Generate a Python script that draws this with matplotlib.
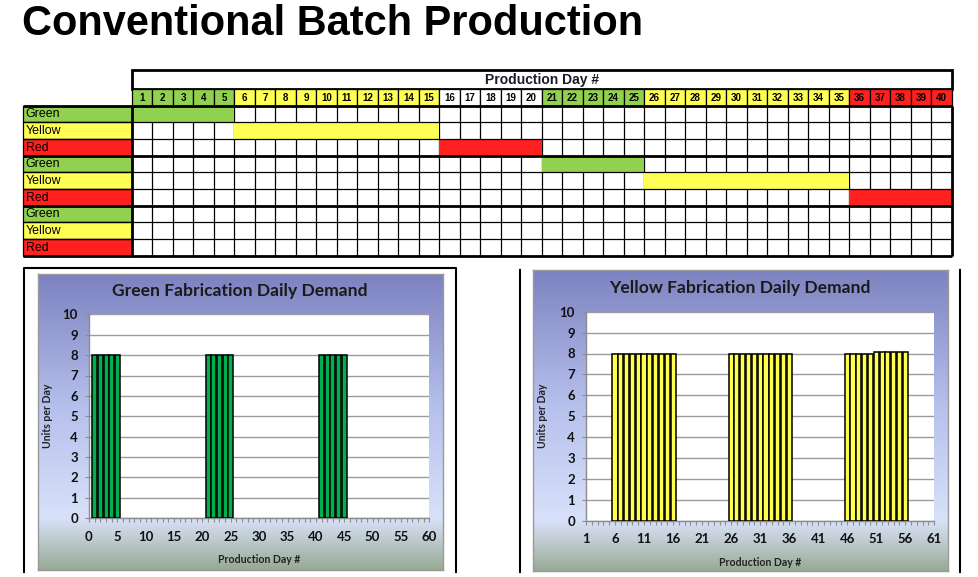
import matplotlib
matplotlib.use('Agg')
import matplotlib.pyplot as plt
import numpy as np
from matplotlib.patches import Rectangle
from matplotlib.lines import Line2D
from matplotlib.ticker import MultipleLocator

# ---------------- data ----------------
page_title = "Conventional Batch Production"
table_header = "Production Day #"
days = [1, 2, 3, 4, 5, 6, 7, 8, 9, 10, 11, 12, 13, 14, 15, 16, 17, 18, 19, 20,
        21, 22, 23, 24, 25, 26, 27, 28, 29, 30, 31, 32, 33, 34, 35, 36, 37, 38, 39, 40]
header_seg_start = [1, 6, 16, 21, 26, 36]
header_seg_end = [5, 15, 20, 25, 35, 40]
header_seg_color = ["green", "yellow", "white", "green", "yellow", "red"]

row_labels = ["Green", "Yellow", "Red", "Green", "Yellow", "Red", "Green", "Yellow", "Red"]
schedule_row = [0, 1, 2, 3, 4, 5]
schedule_start = [1, 6, 16, 21, 26, 36]
schedule_end = [5, 15, 20, 25, 35, 40]

green_title = "Green Fabrication Daily Demand"
green_days = [1, 2, 3, 4, 5, 21, 22, 23, 24, 25, 41, 42, 43, 44, 45]
green_units = [8, 8, 8, 8, 8, 8, 8, 8, 8, 8, 8, 8, 8, 8, 8]
green_xticks = [0, 5, 10, 15, 20, 25, 30, 35, 40, 45, 50, 55, 60]

yellow_title = "Yellow Fabrication Daily Demand"
yellow_days = [6, 7, 8, 9, 10, 11, 12, 13, 14, 15, 16,
               26, 27, 28, 29, 30, 31, 32, 33, 34, 35, 36,
               46, 47, 48, 49, 50, 51, 52, 53, 54, 55, 56]
yellow_units = [8, 8, 8, 8, 8, 8, 8, 8, 8, 8, 8,
                8, 8, 8, 8, 8, 8, 8, 8, 8, 8, 8,
                8, 8, 8, 8, 8, 8.05, 8.05, 8.05, 8.05, 8.05, 8.05]
yellow_xticks = [1, 6, 11, 16, 21, 26, 31, 36, 41, 46, 51, 56, 61]

y_ticks = [0, 1, 2, 3, 4, 5, 6, 7, 8, 9, 10]
y_label = "Units per Day"
x_label = "Production Day #"

# ---------------- styling ----------------
W, H = 979, 577
COL = {"green": "#92D050", "yellow": "#FFFF55", "red": "#FF2020", "white": "#FFFFFF"}
BAR_GREEN = "#00B050"
BAR_YELLOW = "#FFFF4D"
ARIAL = "Liberation Sans"
CAL = "Lato"

fig = plt.figure(figsize=(W / 100, H / 100), dpi=100)
fig.patch.set_facecolor("white")


def px(x0, y0, x1, y1):
    return [x0 / W, 1 - y1 / H, (x1 - x0) / W, (y1 - y0) / H]


def fline(xs, ys, lw=1.5, color="black"):
    fig.add_artist(Line2D([x / W for x in xs], [1 - y / H for y in ys],
                          lw=lw, color=color, transform=fig.transFigure))


# page title
fig.text(22 / W, 1 - 35 / H, page_title, fontsize=29.9, fontweight="bold",
         family=ARIAL, ha="left", va="baseline")

# ---------------- table ----------------
LW = 5.29   # label column width in day-columns
HT = 1.14   # header title row height in rows
ax_t = fig.add_axes(px(23.3, 70, 951.7, 255.7))
ax_t.set_xlim(-LW, 40)
ax_t.set_ylim(9, -1 - HT)
ax_t.axis("off")

ax_t.add_patch(Rectangle((0, -1 - HT), 40, HT, fc="white", ec="black", lw=2, clip_on=False))
ax_t.text(20, -1 - HT / 2, table_header, ha="center", va="center",
          fontsize=10, fontweight="bold", family=ARIAL, color="#1a1a2a")

for s, e, c in zip(header_seg_start, header_seg_end, header_seg_color):
    for d in days:
        if s <= d <= e:
            ax_t.add_patch(Rectangle((d - 1, -1), 1, 1, fc=COL[c], ec="black", lw=0.9, clip_on=False))
            ax_t.text(d - 0.5, -0.47, str(d), ha="center", va="center", fontsize=7.0,
                      fontweight="bold", family=ARIAL, color="black")

for i, lab in enumerate(row_labels):
    ax_t.add_patch(Rectangle((-LW, i), LW, 1, fc=COL[lab.lower()], ec="black", lw=0.9,
                             clip_on=False, zorder=2))
    ax_t.text(-LW + 0.12, i + 0.52, lab, ha="left", va="center", fontsize=8.9,
              family=ARIAL, color="black", zorder=4)

# vertical grid lines
for x in range(0, 41):
    lw = 2 if x in (0, 40) else 0.9
    ax_t.plot([x, x], [0, 9], color="black", lw=lw, zorder=1 if x not in (0, 40) else 3,
              clip_on=False, solid_capstyle="butt")

# scheduled bands
for r, s, e in zip(schedule_row, schedule_start, schedule_end):
    ax_t.add_patch(Rectangle((s - 1, r), e - s + 1, 1, fc=COL[row_labels[r].lower()],
                             ec="none", zorder=2))

# horizontal grid lines
for y in range(0, 10):
    lw = 2 if y % 3 == 0 else 0.9
    ax_t.plot([-LW, 40], [y, y], color="black", lw=lw, zorder=3, clip_on=False,
              solid_capstyle="butt")


# ---------------- charts ----------------
def gradient_panel(rect_px, axis_frac):
    axb = fig.add_axes(px(*rect_px))
    stops = [0.0, 0.45, axis_frac, axis_frac + 0.07, 1.0]
    cols = np.array([[124, 130, 192], [182, 192, 236], [216, 225, 249],
                     [192, 204, 208], [150, 170, 148]]) / 255.0
    t = np.linspace(0, 1, 300)
    img = np.stack([np.interp(t, stops, cols[:, k]) for k in range(3)], axis=1)
    axb.imshow(img[:, None, :], aspect="auto", extent=[0, 1, 1, 0])
    axb.set_xlim(0, 1)
    axb.set_ylim(1, 0)
    axb.set_xticks([])
    axb.set_yticks([])
    for sp in axb.spines.values():
        sp.set_color("#9a9a9a")
        sp.set_linewidth(1)
    return axb


def demand_chart(rect_px, xs, ys, color, xlim, xticks, title, title_xy, xl_y, yl_x):
    ax = fig.add_axes(px(*rect_px))
    ax.set_facecolor("white")
    ax.bar(xs, ys, width=0.88, color=color, edgecolor="black", linewidth=1.1, zorder=3)
    ax.set_xlim(*xlim)
    ax.set_ylim(0, 10)
    ax.set_yticks(y_ticks)
    ax.set_xticks(xticks)
    ax.xaxis.set_minor_locator(MultipleLocator(1))
    ax.grid(axis="y", color="#9c9c9c", lw=1, zorder=0)
    ax.set_axisbelow(True)
    for s in ("top", "right"):
        ax.spines[s].set_visible(False)
    for s in ("left", "bottom"):
        ax.spines[s].set_color("#8c8c8c")
        ax.spines[s].set_linewidth(1)
    ax.tick_params(axis="both", which="both", direction="out", color="#8c8c8c",
                   length=3, width=0.8)
    ax.tick_params(axis="x", which="major", pad=6)
    ax.tick_params(axis="y", which="major", pad=5)
    for lab in ax.get_xticklabels() + ax.get_yticklabels():
        lab.set_fontfamily(CAL)
        lab.set_fontweight("bold")
        lab.set_fontsize(9.5)
        lab.set_color("#111111")
    ax.set_xlabel(x_label, fontsize=7.6, fontweight="bold", family=CAL, color="#222222")
    ax.set_ylabel(y_label, fontsize=7.6, fontweight="bold", family=CAL, color="#222222")
    x0, y0, x1, y1 = rect_px
    ax.xaxis.set_label_coords(0.5, (y1 - xl_y) / (y1 - y0))
    ax.yaxis.set_label_coords((yl_x - x0) / (x1 - x0), 0.5)
    fig.text(title_xy[0] / W, 1 - title_xy[1] / H, title, ha="center", va="center",
             fontsize=12.6, fontweight="bold", family=CAL, color="#1a1a1a")
    return ax


gradient_panel((38, 274, 443, 570), (518.3 - 274) / (570 - 274))
demand_chart((89, 314.3, 429.3, 518.3), green_days, green_units, BAR_GREEN,
             (0, 60), green_xticks, green_title, (240, 291), 554, 53)

gradient_panel((533, 270, 948, 571), (520.7 - 270) / (571 - 270))
demand_chart((586, 311.7, 934.3, 520.7), yellow_days, yellow_units, BAR_YELLOW,
             (1, 61), yellow_xticks, yellow_title, (740, 288), 557, 548)

# frames around chart panels
fline([24, 24, 456, 456], [572, 268, 268, 572], lw=1.5)
fline([520, 520], [270, 572], lw=1.5)
fline([960, 960], [270, 572], lw=1.5)

fig.savefig("out.png", dpi=100)
